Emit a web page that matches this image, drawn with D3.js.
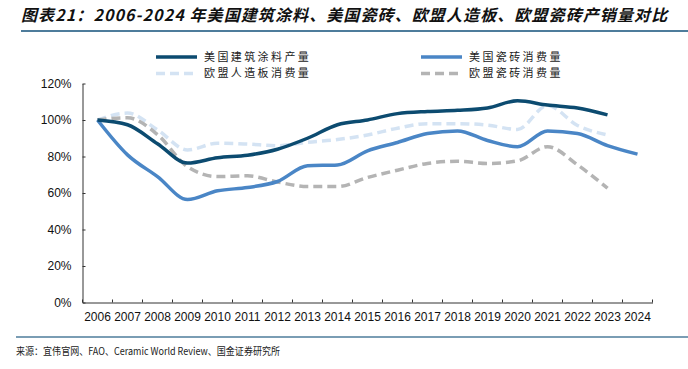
<!DOCTYPE html>
<html>
<head>
<meta charset="utf-8">
<script src="https://cdn.jsdelivr.net/npm/d3@7"></script>
<style>
  body { margin: 0; background: #fff; }
  svg { display: block; }
</style>
</head>
<body>
<div id="chart"></div>
<script>
const years = d3.range(2006, 2025).map(String)

// 指数，2006 = 100%
const usCoatings = [100, 97.4, 87, 76.4, 79.3, 80.7, 84, 90, 97.4, 100, 103.5, 104.7, 105.3, 106.6, 110.5, 108.2, 106.6, 102.8]
const usTiles = [100, 80.9, 69, 56.4, 61.2, 63, 66.3, 74.9, 75.4, 83.1, 87.7, 92.6, 94, 88.8, 85.3, 94, 92.6, 86, 81.3]
const euPanels = [100, 103.8, 94.6, 83.6, 87.3, 86.8, 85.9, 87.8, 89.3, 91.8, 95.5, 98, 98, 97.2, 94.8, 108, 97, 91.8]
const euTiles = [100, 101.2, 92, 74.4, 69, 69.4, 66, 63.5, 63.5, 68.5, 72.5, 76.2, 77.4, 76.2, 77.6, 85.4, 75.4, 62.6]

const yTicks = [0, 20, 40, 60, 80, 100, 120]

const series = [
  { name: '美国建筑涂料产量', values: usCoatings, color: '#0c4b70', dash: null },
  { name: '美国瓷砖消费量', values: usTiles, color: '#4a86c6', dash: null },
  { name: '欧盟人造板消费量', values: euPanels, color: '#d4e3f3', dash: '9,5' },
  { name: '欧盟瓷砖消费量', values: euTiles, color: '#b4b4b4', dash: '9,5' }
]

const width = 688, height = 369
const margin = { top: 83.5, right: 35.5, bottom: 66.5, left: 82.5 }

const svg = d3.select('#chart').append('svg')
    .attr('width', width)
    .attr('height', height)

// 标题
svg.append('text')
    .attr('x', 21)
    .attr('y', 21)
    .attr('font-family', '"Noto Sans CJK SC", sans-serif')
    .attr('font-size', 16)
    .attr('font-weight', 'bold')
    .attr('font-style', 'italic')
    .attr('letter-spacing', 1.1)
    .attr('fill', '#111')
    .text('图表21：2006-2024 年美国建筑涂料、美国瓷砖、欧盟人造板、欧盟瓷砖产销量对比')

svg.append('line')
    .attr('x1', 21).attr('x2', width)
    .attr('y1', 31).attr('y2', 31)
    .attr('stroke', '#4e7c9b')
    .attr('stroke-width', 2)

const x = d3.scaleBand()
    .domain(years)
    .range([margin.left, width - margin.right])

const y = d3.scaleLinear()
    .domain([0, 120])
    .range([height - margin.bottom, margin.top])

// 坐标轴
svg.append('g')
    .attr('transform', 'translate(0,' + (height - margin.bottom) + ')')
    .call(d3.axisBottom(x).tickSize(0).tickPadding(10))
    .call(g => g.select('.domain').attr('stroke', '#333'))
    .call(g => g.selectAll('text')
        .attr('font-family', '"Liberation Sans", Arial, sans-serif')
        .attr('font-size', 12)
        .attr('fill', '#111'))

// x 轴刻度（向内）
svg.append('g')
    .attr('stroke', '#333')
  .selectAll('line')
  .data(years.concat(['end']))
  .enter().append('line')
    .attr('x1', d => d === 'end' ? x.range()[1] : x(d))
    .attr('x2', d => d === 'end' ? x.range()[1] : x(d))
    .attr('y1', height - margin.bottom)
    .attr('y2', height - margin.bottom - 3)

svg.append('g')
    .attr('transform', 'translate(' + margin.left + ',0)')
    .call(d3.axisLeft(y).tickValues(yTicks).tickFormat(d => d + '%').tickSizeInner(-3).tickSizeOuter(0).tickPadding(11))
    .call(g => g.select('.domain').attr('stroke', '#333'))
    .call(g => g.selectAll('.tick line').attr('stroke', '#333'))
    .call(g => g.selectAll('text')
        .attr('font-family', '"Liberation Sans", Arial, sans-serif')
        .attr('font-size', 12)
        .attr('fill', '#111'))

// 折线
const line = d3.line()
    .x((d, i) => x(years[i]) + x.bandwidth() / 2)
    .y(d => y(d))
    .curve(d3.curveMonotoneX)

const drawOrder = [series[2], series[3], series[1], series[0]]
svg.append('g')
    .attr('fill', 'none')
  .selectAll('path')
  .data(drawOrder)
  .enter().append('path')
    .attr('d', d => line(d.values))
    .attr('stroke', d => d.color)
    .attr('stroke-width', 3.5)
    .attr('stroke-dasharray', d => d.dash)
    .attr('stroke-linejoin', 'round')

// 图例
const legendPos = [
  { x: 156, y: 57 },
  { x: 421, y: 57 },
  { x: 156, y: 73.5 },
  { x: 421, y: 73.5 }
]
const legend = svg.append('g')
  .selectAll('g')
  .data(series)
  .enter().append('g')
    .attr('transform', (d, i) => 'translate(' + legendPos[i].x + ',' + legendPos[i].y + ')')

legend.append('line')
    .attr('x1', 0).attr('x2', 41)
    .attr('stroke', d => d.color)
    .attr('stroke-width', 3.5)
    .attr('stroke-dasharray', d => d.dash ? '9,5' : null)

legend.append('text')
    .attr('x', 48)
    .attr('dy', '0.35em')
    .attr('font-family', '"Noto Sans CJK SC", sans-serif')
    .attr('font-size', 11)
    .attr('letter-spacing', 2.4)
    .attr('fill', '#222')
    .text(d => d.name)

// 底部
svg.append('line')
    .attr('x1', 16).attr('x2', width)
    .attr('y1', 337).attr('y2', 337)
    .attr('stroke', '#4e7c9b')
    .attr('stroke-width', 1.5)

svg.append('text')
    .attr('x', 16)
    .attr('y', 355)
    .attr('font-family', '"Noto Sans CJK SC", sans-serif')
    .attr('font-size', 10)
    .attr('textLength', 264)
    .attr('lengthAdjust', 'spacingAndGlyphs')
    .attr('fill', '#222')
    .text('来源：宜伟官网、FAO、Ceramic World Review、国金证券研究所')
</script>
</body>
</html>
